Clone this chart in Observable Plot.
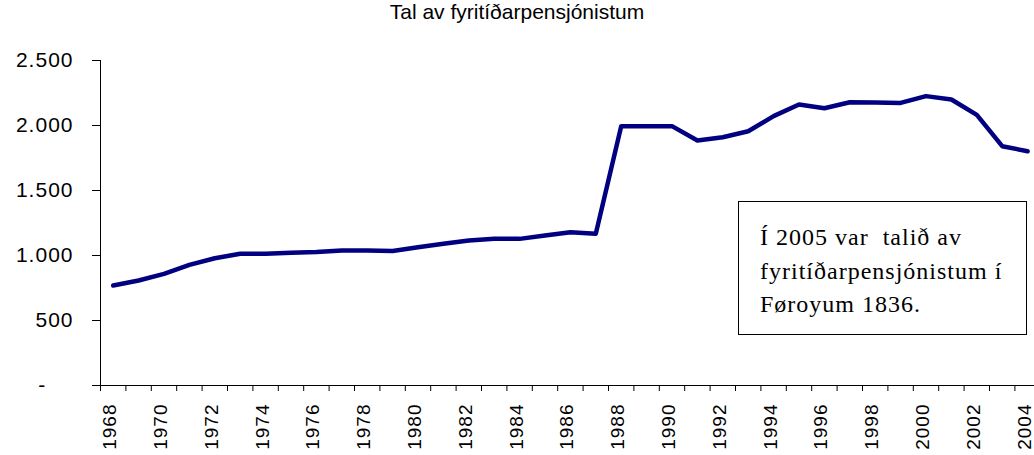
<!DOCTYPE html>
<html>
<head>
<meta charset="utf-8">
<script src="https://cdn.jsdelivr.net/npm/d3@7"></script>
<script src="https://cdn.jsdelivr.net/npm/@observablehq/plot@0.6"></script>
<style>
  html, body { margin: 0; padding: 0; background: #fff; overflow: hidden; }
  #wrap { position: relative; width: 1034px; height: 455px; }
  #title { height: 40px; line-height: 40px; text-align: center; font: 21px "Liberation Sans", Arial, sans-serif; color: #000; }
  #note { position: absolute; left: 738px; top: 201px; width: 287px; height: 132px; border: 1.5px solid #000; background: #fff;
          font-family: "Liberation Serif", "Times New Roman", serif; font-size: 24px; letter-spacing: 1px; line-height: 33.5px; color: #000; box-sizing: content-box; }
  #note div { position: absolute; left: 21px; top: 19px; white-space: pre; }
  [aria-label="y-axis tick label"] { letter-spacing: 1px; }
  [aria-label="x-axis tick label"] { letter-spacing: 1px; }
</style>
</head>
<body>
<div id="wrap">
  <div id="title"></div>
  <div id="chart"></div>
  <div id="note"><div></div></div>
</div>
<script>
const title = "Tal av fyritíðarpensjónistum";
const years = [1968,1969,1970,1971,1972,1973,1974,1975,1976,1977,1978,1979,1980,1981,1982,1983,1984,1985,1986,1987,
               1988,1989,1990,1991,1992,1993,1994,1995,1996,1997,1998,1999,2000,2001,2002,2003,2004];
const pensioners = [769,808,859,928,979,1013,1013,1021,1026,1038,1038,1035,1064,1090,1115,1128,1128,1154,1179,1167,
                    1995,1995,1995,1885,1910,1956,2072,2162,2133,2179,2177,2174,2226,2200,2082,1841,1802];
const yTicks = [0, 500, 1000, 1500, 2000, 2500];
const yTickLabels = ["-\u00a0\u00a0\u00a0\u00a0", "500", "1.000", "1.500", "2.000", "2.500"];
const xLabelYears = years.filter(y => y % 2 === 0);
const noteLines = ["Í 2005 var  talið av", "fyritíðarpensjónistum í", "Føroyum 1836."];

document.getElementById("title").textContent = title;
document.querySelector("#note div").textContent = noteLines.join("\n");

const data = years.map((year, i) => ({year, value: pensioners[i]}));
const yearBounds = [years[0] - 0.5, ...years.map(y => y + 0.5)];

const chart = Plot.plot({
  width: 1034,
  height: 415,
  marginTop: 20,
  marginBottom: 70,
  marginLeft: 100,
  marginRight: 0,
  style: {fontFamily: "'Liberation Sans', Arial, sans-serif", color: "#000", background: "#fff", overflow: "visible"},
  x: {domain: [years[0] - 0.5, years[0] - 0.5 + 934 / 25.4]},
  y: {domain: [0, 2500]},
  marks: [
    Plot.axisY({ticks: yTicks, tickFormat: d => yTickLabels[yTicks.indexOf(d)], tickSize: 8, tickPadding: 19, fontSize: 21, label: null}),
    Plot.axisX({ticks: yearBounds, tickSize: 6, fill: "none", label: null}),
    Plot.axisX({ticks: xLabelYears, tickSize: 0, tickRotate: -90, tickPadding: 18, fontSize: 19, dx: -3, tickFormat: d => String(d), label: null}),
    Plot.frame({anchor: "left", stroke: "#000"}),
    Plot.ruleY([0], {stroke: "#000", insetLeft: -8}),
    Plot.line(data, {x: "year", y: "value", stroke: "#000080", strokeWidth: 4.5, strokeLinejoin: "round"})
  ]
});
document.getElementById("chart").appendChild(chart);
</script>
</body>
</html>
